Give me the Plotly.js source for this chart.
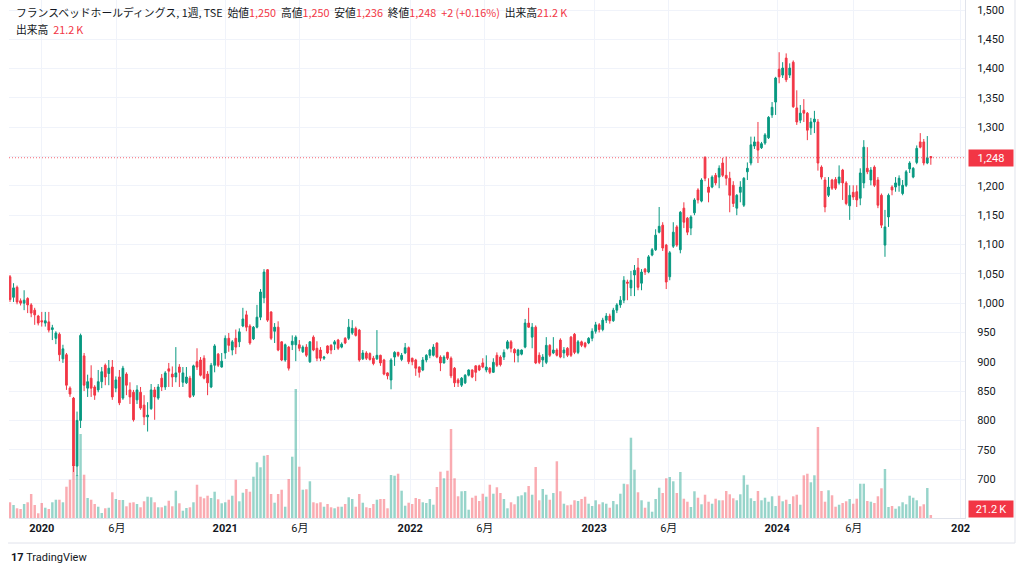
<!DOCTYPE html>
<html><head><meta charset="utf-8">
<script src="https://cdn.plot.ly/plotly-3.0.1.min.js"></script>
<style>html,body{margin:0;padding:0;background:#fff;} #chart{width:1024px;height:574px;}</style>
</head><body><div id="chart"></div>
<script>
// Weekly candles, France Bed Holdings (TSE), first bar week of 2019-11-04
const startDate = '2019-11-04';
const openP = [
1045,1010,1027,1004,1000,1008,997,988,978,970,
966,968,955,940,947,905,912,855,838,722,
800,910,855,872,857,852,866,894,880,891,
855,874,838,879,852,848,835,848,826,806,
820,852,838,872,857,888,879,874,891,865,
864,872,843,900,903,906,879,857,894,913,
891,915,940,920,940,934,961,980,961,939,
959,976,1009,1057,985,952,959,934,903,925,
929,929,929,917,925,900,942,923,920,906,
927,928,930,937,925,940,940,949,957,954,
905,915,914,906,905,911,903,881,869,908,
916,904,915,924,906,903,891,886,903,911,
911,932,908,898,916,906,889,869,860,864,
877,886,893,893,898,886,889,882,911,908,
908,923,934,921,911,913,925,966,942,959,
911,903,899,928,915,920,937,915,923,942,
947,916,934,932,932,940,952,963,955,971,
978,970,988,997,1005,1036,1026,1048,1060,1034,
1058,1053,1082,1091,1121,1133,1099,1045,1097,1130,
1091,1162,1145,1128,1154,1193,1174,1249,1198,1198,
1218,1215,1239,1218,1213,1201,1162,1189,1167,1224,
1239,1268,1275,1265,1273,1282,1321,1343,1399,1389,
1418,1389,1411,1333,1312,1329,1324,1299,1309,1309,
1232,1210,1184,1210,1211,1205,1227,1205,1166,1189,
1190,1179,1205,1230,1210,1232,1210,1184,1099,1147,
1198,1198,1201,1187,1201,1229,1215,1240,1275,1275,
1239,1250];
const highP = [
1048,1034,1030,1008,1022,1010,1000,992,980,985,
985,985,963,952,950,929,915,858,840,815,
948,915,878,894,860,886,891,897,903,903,
875,886,893,882,865,852,860,857,843,831,
862,857,862,879,884,898,892,925,896,891,
891,876,895,923,908,911,884,898,930,915,
915,945,949,937,955,957,992,987,964,961,
997,1024,1058,1058,986,966,969,935,931,927,
945,945,937,928,930,935,945,935,925,910,
928,930,937,939,933,942,973,971,960,956,
920,918,916,910,954,912,905,882,906,918,
917,915,932,926,907,905,892,908,913,922,
930,933,911,911,917,909,891,872,874,879,
887,887,894,895,906,911,891,906,916,911,
921,937,937,923,922,921,973,992,966,962,
916,913,942,930,942,923,940,925,925,944,
949,937,936,934,942,957,968,966,975,983,
982,992,1000,1012,1046,1040,1055,1065,1077,1058,
1060,1082,1094,1126,1164,1138,1101,1089,1138,1133,
1157,1172,1147,1150,1179,1196,1213,1250,1213,1218,
1222,1235,1248,1250,1224,1208,1186,1208,1215,1240,
1284,1284,1309,1275,1290,1319,1343,1386,1428,1411,
1426,1409,1414,1363,1338,1348,1326,1316,1328,1314,
1235,1215,1215,1212,1215,1235,1229,1208,1201,1201,
1201,1230,1278,1266,1232,1235,1215,1187,1159,1187,
1201,1215,1218,1210,1227,1242,1232,1269,1290,1280,
1285,1250];
const lowP = [
1002,1002,998,996,988,983,976,963,962,960,
960,950,937,930,901,898,852,840,712,705,
787,850,840,840,835,848,855,860,860,835,
848,826,835,843,828,798,828,818,792,781,
818,801,835,850,852,857,857,865,857,857,
862,838,840,886,875,870,843,855,882,891,
890,905,917,911,913,925,959,952,929,937,
957,971,1000,968,937,932,918,901,900,885,
920,901,918,915,908,898,918,901,901,903,
913,913,920,920,923,930,937,946,943,900,
903,903,902,894,903,893,877,870,853,893,
908,901,913,896,894,876,873,884,899,906,
909,906,884,897,903,872,857,857,857,862,
875,872,867,884,889,882,879,881,891,892,
903,921,916,899,899,911,923,958,923,896,
896,891,896,908,913,909,906,906,908,908,
913,913,925,923,930,935,948,950,952,966,
965,968,983,992,1000,1005,1012,1012,1022,1022,
1048,1051,1080,1089,1119,1089,1024,1039,1094,1096,
1085,1128,1116,1116,1150,1170,1172,1208,1172,1196,
1201,1196,1215,1201,1155,1164,1150,1172,1164,1210,
1235,1263,1239,1263,1270,1280,1316,1321,1375,1384,
1377,1384,1333,1304,1307,1309,1278,1287,1290,1226,
1211,1155,1181,1193,1193,1202,1176,1167,1142,1176,
1164,1167,1196,1220,1201,1198,1162,1128,1079,1130,
1184,1190,1190,1184,1198,1222,1213,1237,1264,1235,
1237,1236];
const closeP = [
1006,1026,1002,1000,1005,997,983,980,966,968,
970,954,958,949,912,922,860,845,722,800,
945,860,866,855,843,866,883,874,889,840,
869,830,889,860,840,801,852,821,806,809,
852,840,857,857,881,884,874,881,882,881,
874,840,893,891,877,872,864,894,927,894,
901,940,928,934,925,951,973,959,932,959,
976,1019,1053,971,940,959,920,903,929,889,
935,942,923,925,911,934,920,906,906,908,
915,920,934,923,930,932,959,957,945,903,
915,906,904,897,911,898,879,876,903,916,
911,911,924,900,900,889,882,903,911,920,
925,908,898,908,906,876,864,864,872,877,
886,874,882,886,891,891,882,899,894,895,
916,934,923,915,920,920,966,959,959,898,
899,908,928,911,920,911,908,920,911,911,
916,934,928,926,940,952,963,955,971,978,
970,988,997,1005,1039,1034,1039,1056,1027,1053,
1053,1079,1091,1116,1131,1094,1036,1086,1121,1099,
1155,1138,1121,1147,1176,1176,1210,1213,1189,1215,
1205,1230,1218,1213,1184,1170,1184,1198,1213,1230,
1270,1275,1261,1272,1287,1317,1334,1384,1386,1401,
1381,1401,1335,1309,1324,1324,1295,1309,1314,1239,
1215,1164,1198,1196,1196,1215,1205,1170,1184,1181,
1176,1222,1266,1224,1227,1201,1167,1133,1130,1184,
1193,1205,1213,1201,1224,1239,1230,1264,1266,1239,
1248,1248];
// weekly volume, thousands of shares
const volumeK = [
110,91,68,63,98,110,168,91,33,105,
72,63,110,128,128,110,219,268,357,301,
588,303,140,128,98,79,35,68,72,180,
133,126,126,82,107,110,98,75,117,149,
145,110,75,75,86,121,82,191,103,51,
70,75,110,233,149,138,156,140,184,131,
103,110,128,156,268,117,177,203,184,289,
390,355,436,441,168,107,168,198,79,273,
429,903,359,198,201,257,110,103,110,79,
98,75,68,79,79,98,145,133,79,168,
107,75,70,98,128,133,133,68,301,296,
310,191,86,107,98,140,133,110,105,133,
93,217,324,278,331,623,278,152,187,189,
58,142,156,119,170,149,233,170,215,175,
133,68,110,96,152,159,180,224,163,357,
124,203,163,128,175,397,187,100,89,93,
124,119,133,149,100,84,124,96,110,100,
72,119,96,170,240,236,562,338,180,124,
72,114,44,133,212,175,278,287,257,175,
322,135,114,77,187,142,96,163,114,100,
135,124,124,189,166,138,124,166,299,233,
138,119,189,124,142,114,152,84,156,117,
128,98,152,163,93,299,310,250,299,637,
189,114,194,159,79,93,105,117,133,100,
135,240,240,119,114,105,152,208,343,77,
84,65,82,110,96,156,142,124,82,96,
210,21.2];

const xTickDates = ['2020-01-06','2020-06-03','2021-01-04','2021-06-01','2022-01-06','2022-06-03','2023-01-06','2023-06-03','2024-01-04','2024-06-04','2025-01-02'];
const xTickLabels = ['<b>2020</b>','6月','<b>2021</b>','6月','<b>2022</b>','6月','<b>2023</b>','6月','<b>2024</b>','6月','<b>202</b>'];
const priceTicks = [700,750,800,850,900,950,1000,1050,1100,1150,1200,1250,1300,1350,1400,1450,1500];
const lastPrice = 1248;
const lastVolumeLabel = '21.2\u2009K';
const headerName = 'フランスベッドホールディングス, 1週, TSE';
const headerOHLC = {open:'1,250', high:'1,250', low:'1,236', close:'1,248', change:'+2 (+0.16%)', vol:'21.2\u2009K'};

const GREEN = '#089981', RED = '#f23645';
const N = closeP.length;
const dates = [];
const d0 = new Date(startDate + 'T00:00:00Z');
for (let i = 0; i < N; i++) {
  const d = new Date(d0.getTime() + i * 7 * 86400000);
  dates.push(d.toISOString().slice(0, 10));
}
const volColors = closeP.map((c, i) => c >= openP[i] ? 'rgba(8,153,129,0.42)' : 'rgba(242,54,69,0.42)');

const volTrace = {
  type: 'bar', x: dates, y: volumeK, yaxis: 'y', xaxis: 'x',
  marker: {color: volColors, line: {width: 0}}, hoverinfo: 'skip', showlegend: false
};
const candleTrace = {
  type: 'candlestick', x: dates, open: openP, high: highP, low: lowP, close: closeP,
  xaxis: 'x', yaxis: 'y2',
  increasing: {line: {color: GREEN, width: 1}, fillcolor: GREEN},
  decreasing: {line: {color: RED, width: 1}, fillcolor: RED},
  whiskerwidth: 0, hoverinfo: 'skip', showlegend: false
};

const txt = '#131722';
const red = s => '<span style="color:' + RED + '">' + s + '</span>';
const sp = '&nbsp;&nbsp;';
const header1 = headerName + sp + '始値' + red(headerOHLC.open) + sp + '高値' + red(headerOHLC.high) + sp +
  '安値' + red(headerOHLC.low) + sp + '終値' + red(headerOHLC.close) + sp + red(headerOHLC.change) + sp + '出来高' + red(headerOHLC.vol);
const header2 = '出来高' + sp + red(headerOHLC.vol);

const layout = {
  width: 1024, height: 574,
  margin: {l: 9, r: 59, t: 0, b: 56},
  paper_bgcolor: '#ffffff', plot_bgcolor: '#ffffff',
  font: {family: 'Roboto, "Noto Sans CJK JP", sans-serif', color: txt, size: 11},
  bargap: 0.3,
  showlegend: false,
  xaxis: {
    type: 'date', range: ['2019-11-02', '2025-01-10 19:00'],
    rangeslider: {visible: false},
    tickmode: 'array', tickvals: xTickDates, ticktext: xTickLabels,
    showgrid: true, gridcolor: '#f0f3fa', gridwidth: 1,
    ticks: '', tickfont: {size: 11, color: txt},
    showline: true, linecolor: '#e0e3eb', linewidth: 1,
    zeroline: false, fixedrange: true
  },
  yaxis: {
    range: [0, 3626], visible: false, showgrid: false, zeroline: false, fixedrange: true
  },
  yaxis2: {
    overlaying: 'y', side: 'right', range: [633.5, 1517.06],
    tickmode: 'array', tickvals: priceTicks, tickformat: ',d',
    showgrid: true, gridcolor: '#f0f3fa', gridwidth: 1,
    ticks: 'outside', ticklen: 9, tickcolor: 'rgba(0,0,0,0)',
    tickfont: {size: 11, color: txt},
    showline: true, linecolor: '#e0e3eb', linewidth: 1,
    zeroline: false, fixedrange: true
  },
  shapes: [
    {type: 'line', xref: 'paper', x0: 0, x1: 1, yref: 'y2', y0: lastPrice, y1: lastPrice,
     line: {color: 'rgba(242,54,69,0.75)', width: 1, dash: '1px,2px'}},
    {type: 'line', xref: 'paper', x0: 1.0523, x1: 1.0523, yref: 'paper', y0: 1, y1: -0.0483,
     line: {color: '#e0e3eb', width: 1}},
    {type: 'line', xref: 'paper', x0: -0.001, x1: 1.0523, yref: 'paper', y0: -0.0483, y1: -0.0483,
     line: {color: '#e0e3eb', width: 1}}
  ],
  annotations: [
    {xref: 'paper', yref: 'paper', x: 0.0073, y: 0.9775, xanchor: 'left', yanchor: 'middle', xshift: -2,
     text: header1, showarrow: false, font: {family: '"Noto Sans CJK JP", sans-serif', size: 10.8, color: txt}},
    {xref: 'paper', yref: 'paper', x: 0.0073, y: 0.944, xanchor: 'left', yanchor: 'middle', xshift: -2,
     text: header2, showarrow: false, font: {family: '"Noto Sans CJK JP", sans-serif', size: 10.8, color: txt}},
    {xref: 'paper', yref: 'y2', x: 1, y: lastPrice, xanchor: 'left', yanchor: 'middle', xshift: 3,
     text: '1,248', showarrow: false, bgcolor: RED, borderpad: 2, width: 40, height: 12,
     font: {size: 11, color: '#ffffff'}},
    {xref: 'paper', yref: 'paper', x: 1, y: 0, xanchor: 'left', yanchor: 'bottom', xshift: 3,
     text: lastVolumeLabel, showarrow: false, bgcolor: RED, borderpad: 2, width: 40, height: 12,
     font: {size: 11, color: '#ffffff'}},
    {xref: 'paper', yref: 'paper', x: 0.0, y: -0.077, xanchor: 'left', yanchor: 'middle',
     text: '<b>17</b> TradingView', showarrow: false, font: {size: 11, color: txt}}
  ]
};

Plotly.newPlot('chart', [volTrace, candleTrace], layout, {displayModeBar: false, staticPlot: true});
</script>
</body></html>
